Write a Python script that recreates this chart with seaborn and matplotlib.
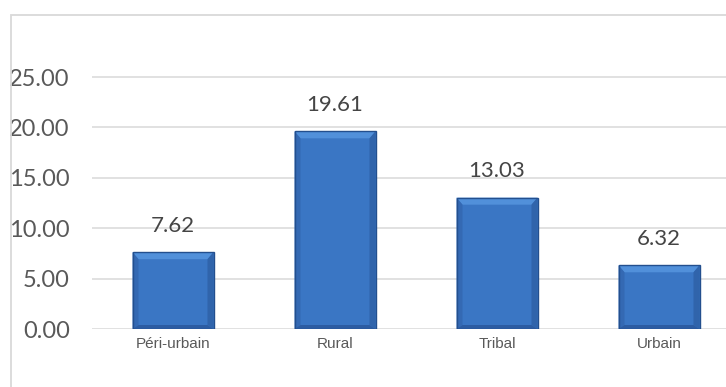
import matplotlib
matplotlib.use("Agg")
import matplotlib.pyplot as plt
import matplotlib.patches as mpatches
import numpy as np
import pandas as pd
import seaborn as sns

categories = ["Péri-urbain", "Rural", "Tribal", "Urbain"]
values = [7.62, 19.61, 13.03, 6.32]
yticks = [0, 5, 10, 15, 20, 25]

df = pd.DataFrame({"cat": categories, "val": values})

sns.set_theme(style="white")
plt.rcParams["font.family"] = ["Lato", "DejaVu Sans"]

W, H = 726, 387
fig = plt.figure(figsize=(W / 100, H / 100), dpi=100)
fig.patch.set_facecolor("white")

# outer chart border (cropped at right/bottom)
fig.patches.append(mpatches.Rectangle((11 / W, -0.1), 1.2, 1 - 15 / H + 0.1,
                                      transform=fig.transFigure, fill=False,
                                      edgecolor="#d9d9d9", lw=1.3))

ax_left, ax_right = 92, 740
ax_bottom, ax_top = 329, 26.6
ax = fig.add_axes([ax_left / W, (H - ax_bottom) / H,
                   (ax_right - ax_left) / W, (ax_bottom - ax_top) / H])

sns.barplot(data=df, x="cat", y="val", color="#3a76c4", width=0.5,
            edgecolor="none", linewidth=0, ax=ax, zorder=3, saturation=1)

ax.set_xlim(-0.5, 3.5)
ax.set_ylim(0, 30)
ax.set_yticks(yticks)
ax.set_yticklabels([f"{v:.2f}" for v in yticks], fontsize=17, color="#595959")
ax.tick_params(axis="y", length=0, pad=16)
ax.tick_params(axis="x", length=0, pad=6)
for lab in ax.get_xticklabels():
    lab.set_fontfamily(["Liberation Sans", "DejaVu Sans"])
    lab.set_fontsize(11)
    lab.set_color("#595959")
ax.set_xlabel("")
ax.set_ylabel("")
for s in ax.spines.values():
    s.set_visible(False)
ax.yaxis.grid(True, color="#d9d9d9", lw=1.1, zorder=0)
ax.set_axisbelow(True)

# soft bevel effect on bars
bars = list(ax.patches)
px_x = 1 / 162.0   # data units per pixel (x)
px_y = 30 / 302.4  # data units per pixel (y)
bx, by_top, by_bot = 6 * px_x, 7 * px_y, 4 * px_y
for bar in bars:
    x0, y0 = bar.get_x(), bar.get_y()
    w, h = bar.get_width(), bar.get_height()
    x1, y1 = x0 + w, y0 + h
    polys = [
        ([(x0, y1), (x1, y1), (x1 - bx, y1 - by_top), (x0 + bx, y1 - by_top)], "#5190da"),  # top
        ([(x0, y0), (x0, y1), (x0 + bx, y1 - by_top), (x0 + bx, y0 + by_bot)], "#3469b3"),  # left
        ([(x1, y0), (x1, y1), (x1 - bx, y1 - by_top), (x1 - bx, y0 + by_bot)], "#3064ab"),  # right
        ([(x0, y0), (x1, y0), (x1 - bx, y0 + by_bot), (x0 + bx, y0 + by_bot)], "#2c5ca2"),  # bottom
    ]
    for pts, c in polys:
        ax.add_patch(mpatches.Polygon(pts, closed=True, facecolor=c,
                                      edgecolor="none", zorder=3.6))
    ax.add_patch(mpatches.Rectangle((x0, y0), w, h, fill=False,
                                    edgecolor="#234f8e", lw=1.0, zorder=3.7))

for bar, v in zip(bars, values):
    ax.annotate(f"{v:.2f}", (bar.get_x() + bar.get_width() / 2, bar.get_height()),
                xytext=(0, 12), textcoords="offset points", ha="center", va="bottom",
                fontsize=16, color="#454545", zorder=5)

fig.savefig("out.png", dpi=100)
